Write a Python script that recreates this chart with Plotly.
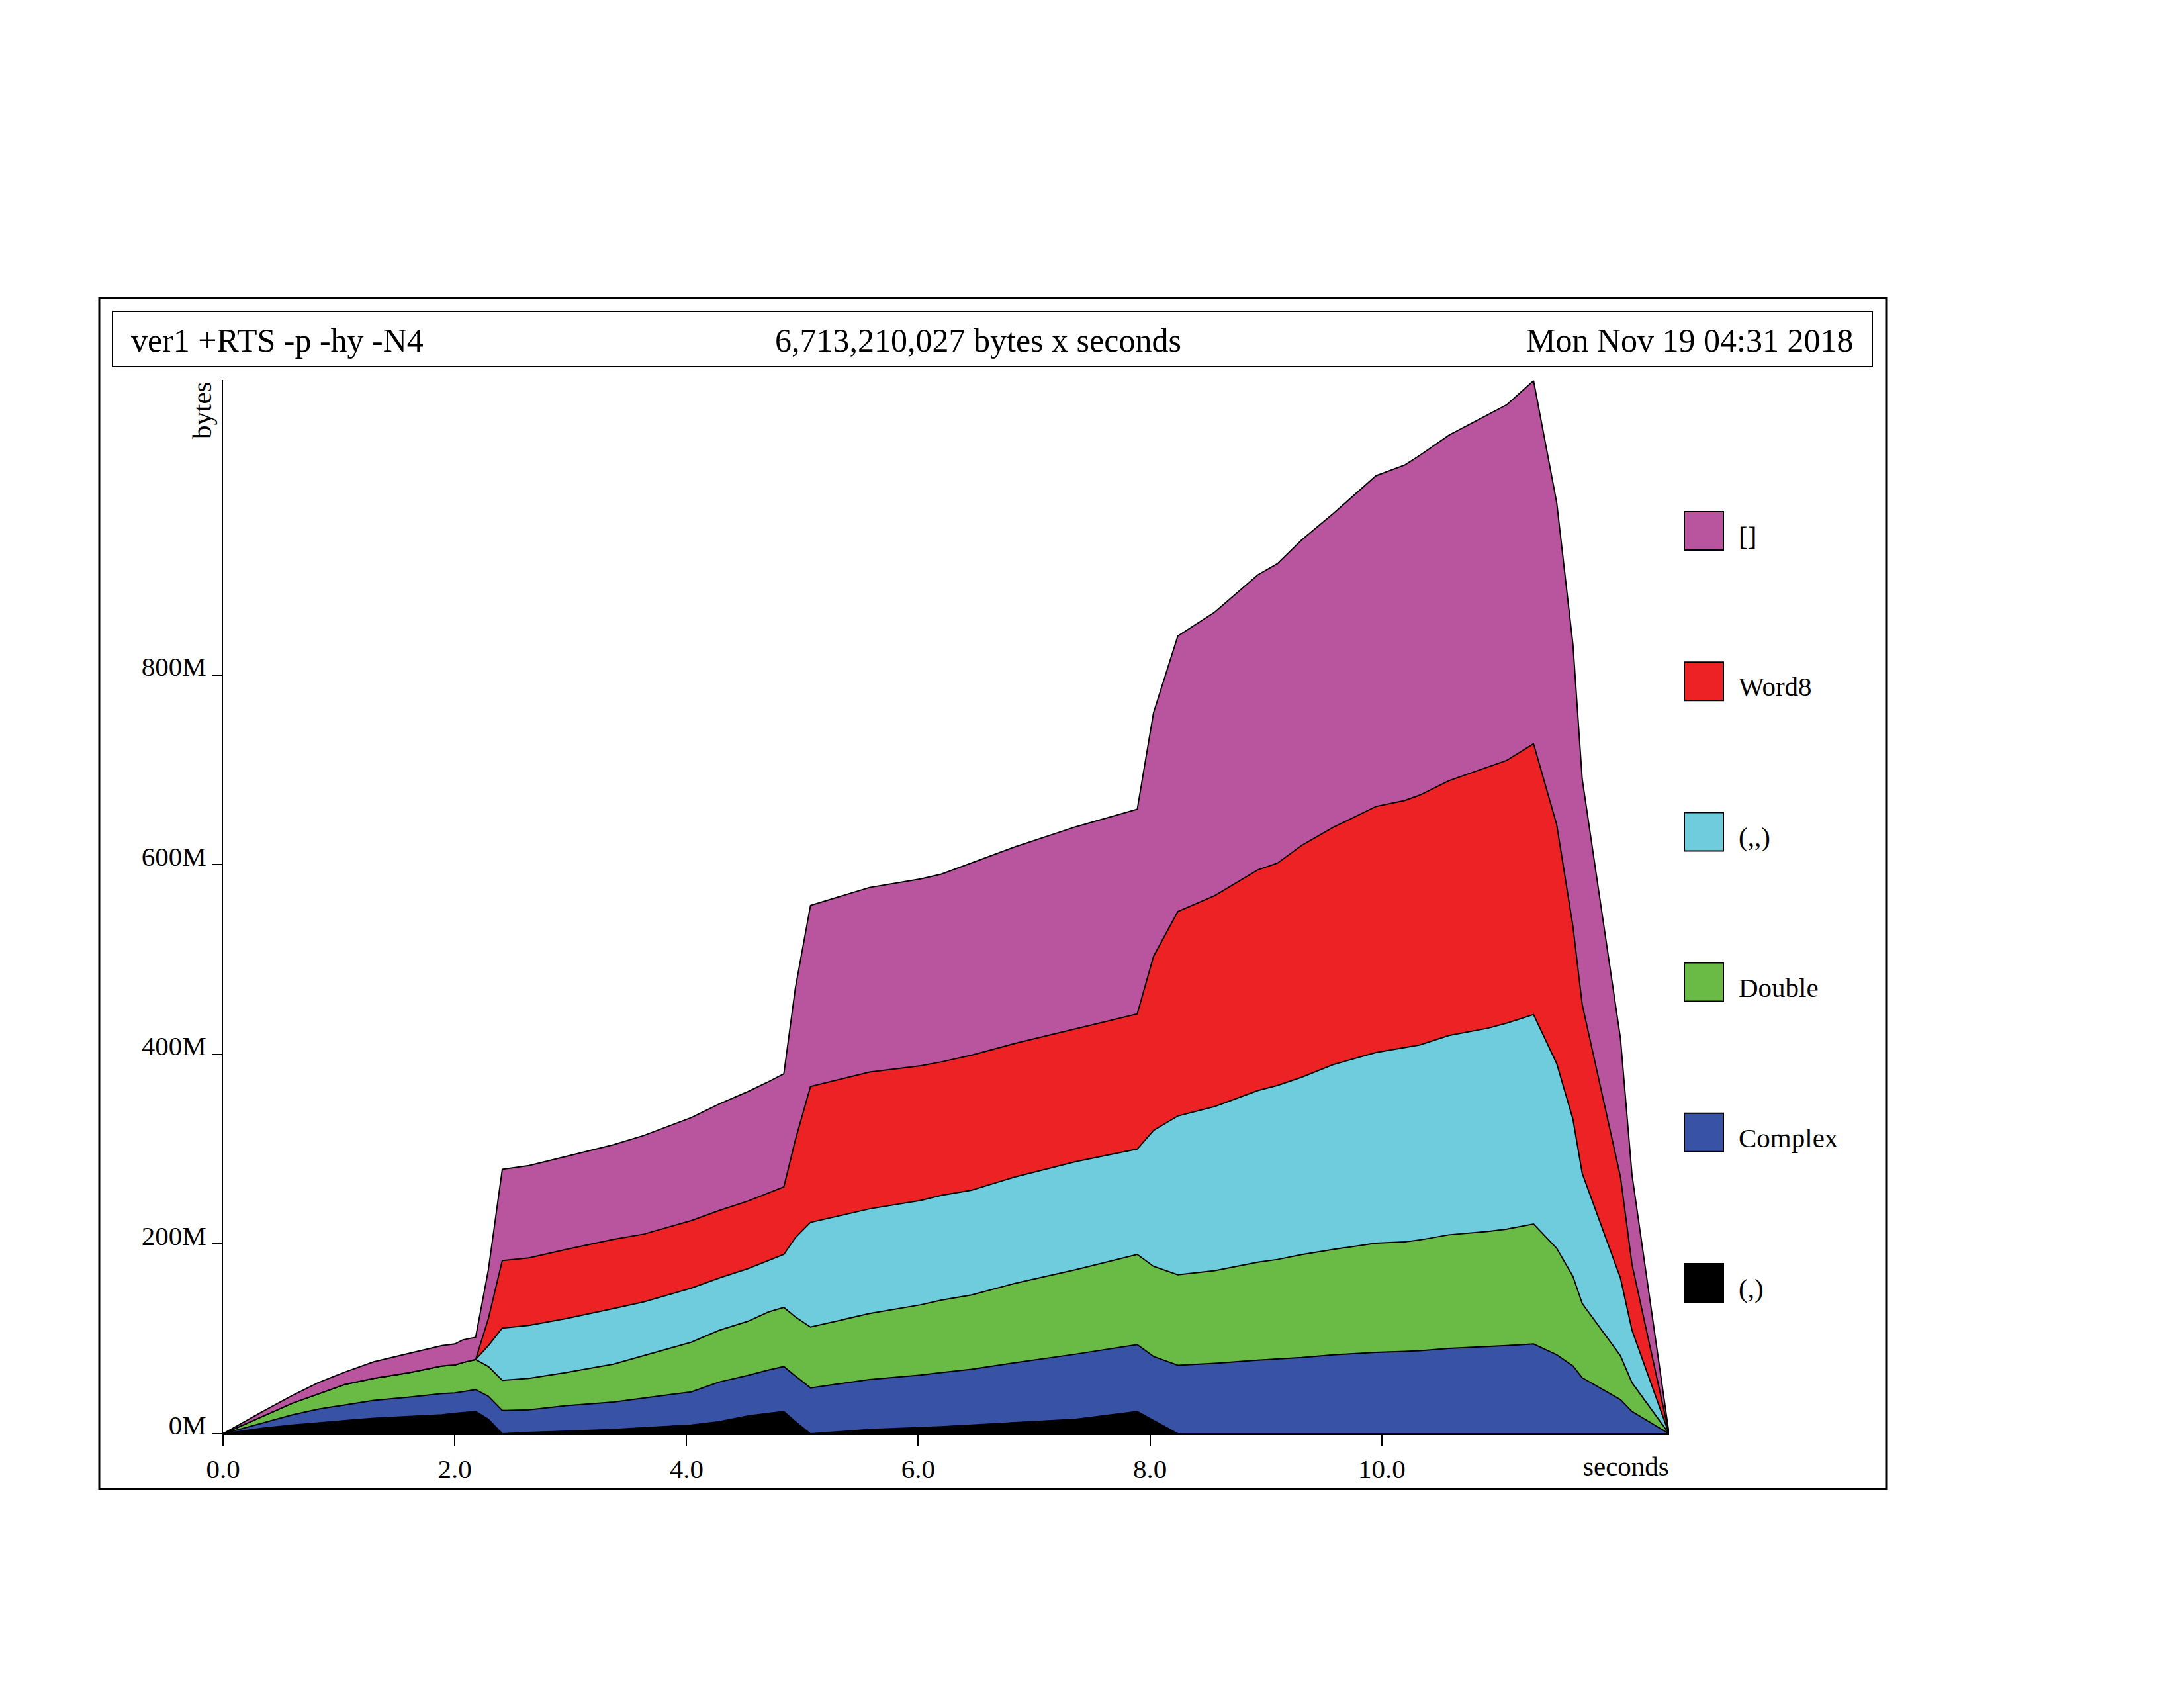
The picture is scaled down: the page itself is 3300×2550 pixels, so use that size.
import plotly.graph_objects as go

# heap profile samples (seconds) and the size of each closure type (MB)
times = [0.0, 0.33, 0.60, 0.82, 1.05, 1.30, 1.61, 1.89, 2.00, 2.07, 2.18, 2.29, 2.41,
         2.64, 2.96, 3.37, 3.63, 4.04, 4.28, 4.53, 4.71, 4.84, 4.94, 5.07, 5.58, 6.02,
         6.20, 6.46, 6.84, 7.36, 7.89, 8.03, 8.24, 8.56, 8.93, 9.10, 9.31, 9.58, 9.95,
         10.20, 10.33, 10.58, 10.92, 11.08, 11.31, 11.51, 11.65, 11.73, 12.06, 12.16, 12.48]

pair = [0, 5.7, 9.3, 11.7, 13.9, 16.4, 18.2, 20.0, 21.7, 22.5, 23.5, 15.3, 0,
        1.4, 2.8, 4.6, 6.4, 9.3, 12.8, 18.9, 21.7, 23.5, 12.8, 0, 4.6, 6.5,
        7.5, 9.3, 11.8, 15.3, 23.5, 13.9, 0, 0, 0, 0, 0, 0, 0,
        0, 0, 0, 0, 0, 0, 0, 0, 0, 0, 0, 0]
complex_ = [0, 5.3, 10.7, 14.3, 16.7, 18.9, 20.6, 22.4, 21.4, 22.0, 23.1, 24.2, 24.6,
            23.9, 26.8, 28.9, 31.3, 34.9, 41.7, 42.7, 45.6, 47.4, 48.1, 48.4, 52.7, 55.5,
            57.0, 58.7, 63.3, 68.7, 70.5, 67.7, 72.3, 74.4, 77.6, 78.7, 80.5, 83.3, 85.8,
            86.8, 87.6, 90.1, 91.9, 93.0, 94.7, 83.3, 71.6, 59.1, 36.0, 23.5, 0]
double = [0, 7.0, 12.4, 16.0, 21.4, 23.1, 25.7, 29.2, 29.5, 30.6, 31.7, 31.4, 31.7,
          33.1, 34.9, 39.9, 44.6, 52.3, 54.5, 57.0, 61.3, 62.3, 62.3, 64.1, 69.5, 74.0,
          76.5, 78.4, 83.7, 89.1, 95.1, 95.0, 95.4, 97.6, 103.3, 105.1, 108.5, 111.1, 115.1,
          115.5, 116.8, 119.7, 121.4, 122.8, 126.5, 112.2, 94.4, 78.4, 46.3, 30.3, 0]
triple = [0, 0, 0, 0, 0, 0, 0, 0, 0, 0, 0, 22.1, 55.2,
          55.9, 56.9, 58.6, 56.7, 57.0, 55.2, 55.5, 54.1, 55.9, 83.7, 110.4, 110.4, 110.0,
          110.4, 110.4, 112.2, 113.9, 111.1, 143.2, 167.4, 173.1, 180.9, 183.4, 187.0, 194.8, 201.1,
          204.7, 205.6, 210.1, 214.4, 217.2, 220.8, 194.8, 165.6, 137.1, 81.9, 55.2, 0]
word8 = [0, 0, 0, 0, 0, 0, 0, 0, 0, 0, 0, 28.4, 71.2,
         71.2, 73.0, 73.0, 71.5, 71.2, 71.2, 71.3, 71.2, 71.2, 103.3, 143.2, 144.2, 142.0,
         140.7, 142.4, 140.7, 140.0, 142.5, 183.4, 215.5, 222.4, 232.7, 234.4, 244.4, 250.1, 259.3,
         260.7, 263.4, 268.6, 275.2, 277.0, 285.5, 251.7, 203.4, 178.0, 106.8, 69.4, 0]
lists = [0, 4.8, 8.2, 11.8, 13.0, 17.5, 20.5, 21.4, 22.1, 23.9, 23.5, 51.6, 96.1,
         97.3, 98.0, 99.8, 104.0, 108.6, 112.2, 115.4, 117.5, 119.3, 160.2, 190.9, 194.6, 197.0,
         197.9, 202.8, 207.3, 213.0, 215.7, 256.8, 290.4, 298.9, 311.0, 315.8, 322.0, 330.7, 348.7,
         353.7, 358.2, 364.3, 371.4, 375.0, 382.8, 339.7, 297.3, 237.8, 146.0, 94.4, 0]

names = ["(,)", "Complex", "Double", "(,,)", "Word8", "[]"]
colors = ["#000000", "#3853A5", "#6ABB46", "#6ECCDC", "#ED2224", "#B9549E"]
series = [pair, complex_, double, triple, word8, lists]

x_ticks = [0, 2, 4, 6, 8, 10]
x_labels = ["0.0", "2.0", "4.0", "6.0", "8.0", "10.0"]
y_ticks = [0, 200, 400, 600, 800]
y_labels = ["0M", "200M", "400M", "600M", "800M"]

FONT = "Liberation Serif"

# plot area in page pixels
L, R, T, B = 337, 2522, 574, 2166.5


def fx(px):
    return (px - L) / (R - L)


def fy(py):
    return (B - py) / (B - T)


fig = go.Figure()
for name, col, vals in zip(names, colors, series):
    fig.add_trace(go.Scatter(x=times, y=vals, name=name, stackgroup="heap",
                             mode="lines", line=dict(color="black", width=2),
                             fillcolor=col))

shapes = [
    dict(type="rect", xref="paper", yref="paper", x0=fx(150), x1=fx(2850),
         y0=fy(2250), y1=fy(450), line=dict(color="black", width=3)),
    dict(type="rect", xref="paper", yref="paper", x0=fx(170), x1=fx(2829),
         y0=fy(554), y1=fy(471), line=dict(color="black", width=2)),
]
annotations = [
    dict(text="ver1 +RTS -p -hy -N4", x=fx(196), y=fy(514), xanchor="left"),
    dict(text="6,713,210,027 bytes x seconds", x=fx(1478), y=fy(514), xanchor="center"),
    dict(text="Mon Nov 19 04:31 2018", x=fx(2802), y=fy(514), xanchor="right"),
]
for a in annotations:
    a.update(xref="paper", yref="paper", yanchor="middle", showarrow=False,
             font=dict(family=FONT, size=50, color="black"))

annotations.append(dict(text="bytes", x=fx(305), y=fy(620), xref="paper", yref="paper",
                        xanchor="center", yanchor="middle", textangle=-90, showarrow=False,
                        font=dict(family=FONT, size=41, color="black")))
annotations.append(dict(text="seconds", x=fx(2524), y=fy(2216), xref="paper", yref="paper",
                        xanchor="right", yanchor="middle", showarrow=False,
                        font=dict(family=FONT, size=41, color="black")))

# legend, top entry first
for i, (name, col) in enumerate(zip(names[::-1], colors[::-1])):
    cy = 802 + i * 227.3
    shapes.append(dict(type="rect", xref="paper", yref="paper",
                       x0=fx(2545), x1=fx(2604), y0=fy(cy + 29), y1=fy(cy - 29),
                       fillcolor=col, line=dict(color="black", width=2)))
    annotations.append(dict(text=name, x=fx(2625), y=fy(cy + 8), xref="paper", yref="paper",
                            xanchor="left", yanchor="middle", showarrow=False,
                            font=dict(family=FONT, size=41, color="black")))

fig.update_layout(
    width=3300, height=2550,
    margin=dict(l=L, r=3300 - R, t=T, b=2550 - B),
    paper_bgcolor="white", plot_bgcolor="white",
    showlegend=False,
    shapes=shapes, annotations=annotations,
    font=dict(family=FONT, size=41, color="black"),
)
fig.update_xaxes(range=[0, 12.48], showgrid=False, zeroline=False, showline=True,
                 linecolor="black", linewidth=2, ticks="outside", ticklen=16, tickwidth=2,
                 tickcolor="black", tickvals=x_ticks, ticktext=x_labels,
                 tickfont=dict(family=FONT, size=41, color="black"))
fig.update_yaxes(range=[0, 1111], showgrid=False, zeroline=False, showline=True,
                 linecolor="black", linewidth=2, ticks="outside", ticklen=15, tickwidth=2,
                 tickcolor="black", tickvals=y_ticks, ticktext=y_labels,
                 ticklabelshift=-13,
                 tickfont=dict(family=FONT, size=41, color="black"))

# the page's default body margin would push the figure off its spot
fig.write_html("out.html", config={"displayModeBar": False},
               post_script="document.body.style.margin = '0px';")
